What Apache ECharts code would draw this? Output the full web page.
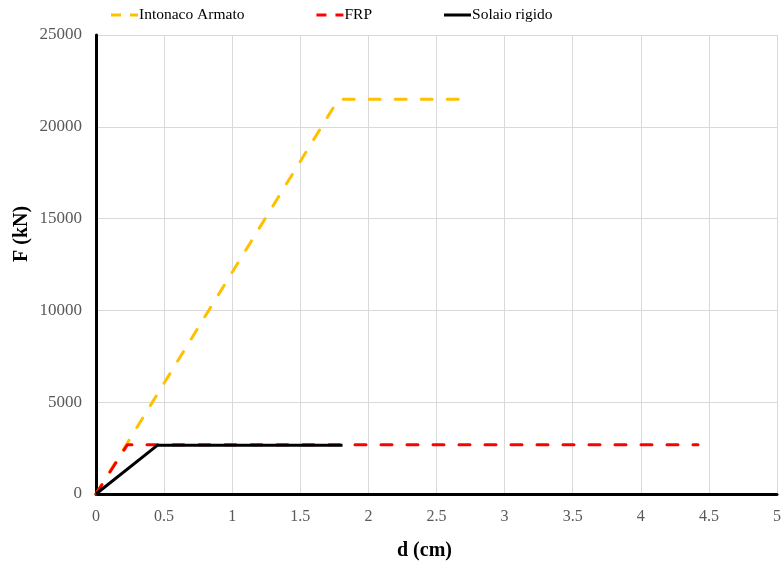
<!DOCTYPE html>
<html>
<head>
<meta charset="utf-8">
<script src="https://cdn.jsdelivr.net/npm/echarts@6/dist/echarts.min.js"></script>
<style>
  html, body { margin: 0; padding: 0; background: #fff; }
  #chart { width: 784px; height: 571px; }
</style>
</head>
<body>
<div id="chart"></div>
<script>
// Force–displacement curves (d in cm, F in kN)
const seriesNames = ['Intonaco Armato', 'FRP', 'Solaio rigido'];
const intonacoD = [0, 1.78, 2.70];
const intonacoF = [0, 21500, 21500];
const frpD = [0, 0.23, 4.42];
const frpF = [0, 2680, 2680];
const rigidoD = [0, 0.45, 1.81];
const rigidoF = [0, 2650, 2650];
const xTicks = [0, 0.5, 1, 1.5, 2, 2.5, 3, 3.5, 4, 4.5, 5];
const yTicks = [0, 5000, 10000, 15000, 20000, 25000];

const pairs = (xs, ys) => xs.map((x, i) => [x, ys[i]]);
const serif = '"Liberation Serif", "Times New Roman", serif';

// legend keys: a short dashed stroke or a solid stroke
const dashedKey = 'path://M0,0h10v3h-10zM19,0h8v3h-8z';
const solidKey = 'path://M0,0h27v3h-27z';

const chart = echarts.init(document.getElementById('chart'));
chart.setOption({
  animation: false,
  grid: { left: 96, right: 5, top: 35, bottom: 77, containLabel: false },
  legend: {
    top: 7,
    left: 111,
    padding: 0,
    itemWidth: 27,
    itemHeight: 3,
    itemGap: 72,
    data: [
      { name: seriesNames[0], icon: dashedKey },
      { name: seriesNames[1], icon: dashedKey },
      { name: seriesNames[2], icon: solidKey }
    ],
    textStyle: { fontFamily: serif, fontSize: 15.5, color: '#000', padding: [0, 0, 0, -4] }
  },
  xAxis: {
    type: 'value',
    min: xTicks[0],
    max: xTicks[xTicks.length - 1],
    interval: 0.5,
    axisLine: { show: true, onZero: false, lineStyle: { color: '#000', width: 3 } },
    axisTick: { show: false },
    axisLabel: { fontFamily: serif, fontSize: 16, color: '#595959', margin: 15 },
    splitLine: { show: true, lineStyle: { color: '#d9d9d9', width: 1 } }
  },
  yAxis: {
    type: 'value',
    min: yTicks[0],
    max: yTicks[yTicks.length - 1],
    interval: 5000,
    axisLine: { show: true, onZero: false, lineStyle: { color: '#000', width: 3 } },
    axisTick: { show: false },
    axisLabel: {
      fontFamily: serif, fontSize: 17, color: '#595959', margin: 14,
      formatter: v => String(v)
    },
    splitLine: { show: true, lineStyle: { color: '#d9d9d9', width: 1 } }
  },
  graphic: [
    {
      type: 'text', left: 397, top: 541,
      style: { text: 'd (cm)', font: 'bold 20px ' + serif, fill: '#000' }
    },
    {
      type: 'text', x: 12, y: 262, rotation: Math.PI / 2,
      style: { text: 'F (kN)', font: 'bold 20px ' + serif, fill: '#000' }
    }
  ],
  series: [
    {
      name: seriesNames[0], type: 'line', data: pairs(intonacoD, intonacoF),
      symbol: 'none', z: 3,
      lineStyle: { color: '#FFC000', width: 3, type: [11, 15], cap: 'round' },
      itemStyle: { color: '#FFC000' }
    },
    {
      name: seriesNames[1], type: 'line', data: pairs(frpD, frpF),
      symbol: 'none', z: 4,
      lineStyle: { color: '#FF0000', width: 3, type: [11, 15], cap: 'round' },
      itemStyle: { color: '#FF0000' }
    },
    {
      name: seriesNames[2], type: 'line', data: pairs(rigidoD, rigidoF),
      symbol: 'none', z: 5,
      lineStyle: { color: '#000000', width: 3, type: 'solid' },
      itemStyle: { color: '#000000' }
    }
  ]
});
</script>
</body>
</html>
